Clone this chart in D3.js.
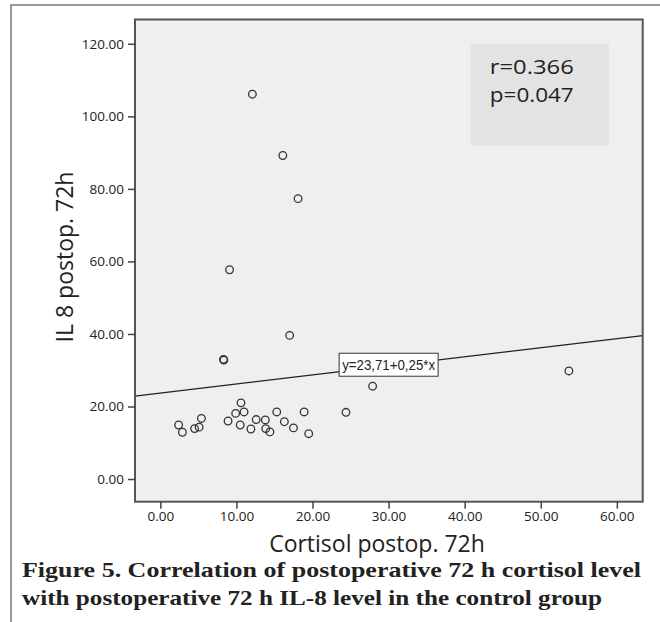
<!DOCTYPE html>
<html lang="en">
<head>
   <meta charset="UTF-8">
   <title>Cortisol vs IL 8 scatter</title>
   <style>
      html, body { margin: 0; padding: 0; background: #fff; }
      svg { display: block; }
      .tick text { font-family: "Open Sans", sans-serif; font-size: 13.5px; fill: #222; }
      .tick line { stroke: #444; stroke-width: 1.5; }
      .axis path.domain { display: none; }
      text.title { font-family: "Open Sans", sans-serif; fill: #222; }
      text.caption { font-family: "Liberation Serif", serif; font-weight: bold; fill: #222; }
   </style>
   <script src="https://cdn.jsdelivr.net/npm/d3@7/dist/d3.min.js"></script>
</head>
<body>
<div class="d3"></div>
<script>
   // data
   const cortisol = [12.1, 16.1, 18.1, 9.1, 17.0, 8.3, 8.35, 10.6, 9.9, 11.0, 2.4, 2.9,
                     5.4, 5.1, 4.5, 8.9, 10.5, 11.9, 12.6, 13.8, 13.85, 14.4, 15.3, 16.3,
                     17.5, 18.9, 19.5, 24.4, 27.9, 53.7]
   const il8 = [106.1, 89.2, 77.3, 57.7, 39.6, 33.0, 32.8, 21.0, 18.1, 18.5, 14.9, 12.9,
                16.7, 14.3, 13.9, 16.0, 14.9, 13.8, 16.4, 16.3, 13.9, 13.0, 18.5, 15.8,
                14.1, 18.5, 12.5, 18.4, 25.6, 29.8]
   const xTicks = [0, 10, 20, 30, 40, 50, 60]
   const yTicks = [0, 20, 40, 60, 80, 100, 120]
   const fit = { intercept: 23.71, slope: 0.25 }
   const fitLabel = 'y=23,71+0,25*x'
   const statLines = ['r=0.366', 'p=0.047']
   const captionLines = [
      'Figure 5. Correlation of postoperative 72 h cortisol level',
      'with postoperative 72 h IL-8 level in the control group'
   ]

   const W = 660, H = 622
   const plot = { left: 135, top: 19.5, right: 642.7, bottom: 501.7 }

   const svg = d3.select('.d3').append('svg')
      .attr('width', W)
      .attr('height', H)

   // outer frame (top + left only visible)
   svg.append('path')
      .attr('d', `M11,${H} V5 H${W}`)
      .attr('fill', 'none')
      .attr('stroke', '#777')
      .attr('stroke-width', 1.5)

   const x = d3.scaleLinear().domain([-3.33, 63.4]).range([plot.left, plot.right])
   const y = d3.scaleLinear().domain([-6.25, 126.7]).range([plot.bottom, plot.top])

   // plot background
   svg.append('rect')
      .attr('x', plot.left).attr('y', plot.top)
      .attr('width', plot.right - plot.left)
      .attr('height', plot.bottom - plot.top)
      .attr('fill', '#efefef')

   // r / p box
   const bx = x(40.8), by = y(119.9)
   svg.append('rect')
      .attr('x', bx).attr('y', by)
      .attr('width', x(58.95) - bx)
      .attr('height', y(91.8) - by)
      .attr('fill', '#e3e3e3')
   svg.selectAll('text.stat')
      .data(statLines)
      .enter()
      .append('text')
         .attr('class', 'title stat')
         .attr('x', bx + 19)
         .attr('y', (d, i) => by + 29.5 + i * 28)
         .attr('font-size', '20.5px')
         .attr('textLength', 84)
         .attr('lengthAdjust', 'spacingAndGlyphs')
         .text(d => d)

   // regression line
   const [x0, x1] = x.domain()
   svg.append('line')
      .attr('x1', x(x0)).attr('y1', y(fit.intercept + fit.slope * x0))
      .attr('x2', x(x1)).attr('y2', y(fit.intercept + fit.slope * x1))
      .attr('stroke', '#222')
      .attr('stroke-width', 1.2)

   // points
   svg.selectAll('circle.pt')
      .data(d3.zip(cortisol, il8))
      .enter()
      .append('circle')
         .attr('class', 'pt')
         .attr('cx', d => x(d[0]))
         .attr('cy', d => y(d[1]))
         .attr('r', 3.8)
         .attr('fill', 'none')
         .attr('stroke', '#333')
         .attr('stroke-width', 1.3)

   // fit label
   const lx = x(23.5), ly = y(fit.intercept + fit.slope * 23.5) - 18.5
   svg.append('rect')
      .attr('x', lx).attr('y', ly)
      .attr('width', 99).attr('height', 23)
      .attr('fill', '#fff')
      .attr('stroke', '#333')
      .attr('stroke-width', 1)
   svg.append('text')
      .attr('x', lx + 3).attr('y', ly + 17)
      .attr('font-family', '"Liberation Sans", Arial, sans-serif')
      .attr('font-size', '14.5px')
      .attr('fill', '#222')
      .attr('textLength', 93)
      .attr('lengthAdjust', 'spacingAndGlyphs')
      .text(fitLabel)

   // plot frame
   svg.append('rect')
      .attr('x', plot.left).attr('y', plot.top)
      .attr('width', plot.right - plot.left)
      .attr('height', plot.bottom - plot.top)
      .attr('fill', 'none')
      .attr('stroke', '#555')
      .attr('stroke-width', 2)

   // axes
   svg.append('g')
      .attr('class', 'axis')
      .attr('transform', `translate(${plot.left},0)`)
      .call(d3.axisLeft(y).tickValues(yTicks).tickFormat(d3.format('.2f')).tickSize(7).tickPadding(4))

   svg.append('g')
      .attr('class', 'axis')
      .attr('transform', `translate(0,${plot.bottom})`)
      .call(d3.axisBottom(x).tickValues(xTicks).tickFormat(d3.format('.2f')).tickSize(7).tickPadding(3))

   // axis titles
   svg.append('text')
      .attr('class', 'title')
      .attr('font-size', '23px')
      .attr('text-anchor', 'middle')
      .attr('x', 377).attr('y', 552)
      .text('Cortisol postop. 72h')

   svg.append('text')
      .attr('class', 'title')
      .attr('font-size', '23px')
      .attr('text-anchor', 'middle')
      .attr('transform', 'translate(73,257) rotate(-90)')
      .text('IL 8 postop. 72h')

   // caption
   svg.selectAll('text.caption')
      .data(captionLines)
      .enter()
      .append('text')
         .attr('class', 'caption')
         .attr('x', 22)
         .attr('y', (d, i) => 577 + i * 28)
         .attr('font-size', '21px')
         .attr('textLength', (d, i) => i === 0 ? 619 : 580)
         .attr('lengthAdjust', 'spacingAndGlyphs')
         .text(d => d)
</script>
</body>
</html>
